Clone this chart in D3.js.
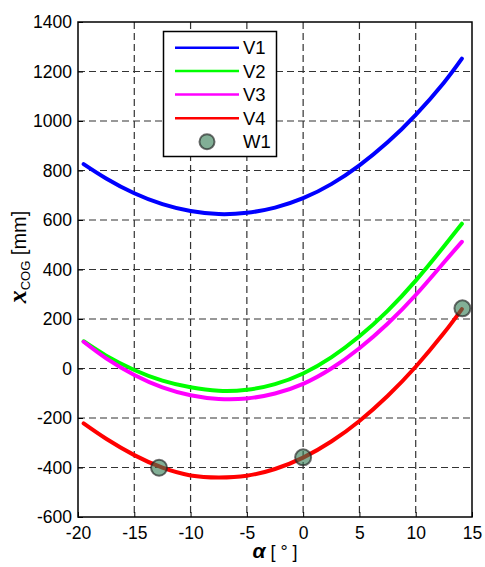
<!DOCTYPE html>
<html>
<head>
<meta charset="utf-8">
<script src="https://cdn.jsdelivr.net/npm/d3@7"></script>
<style>
  body { margin: 0; background: #fff; }
  text { font-family: "Liberation Sans", Arial, sans-serif; }
</style>
</head>
<body>
<svg width="485" height="567"></svg>
<script>
// alpha values (deg) where the curves were read
let alpha = [-19.5, -17.5, -15, -12.5, -10, -7.5, -5, -2.5, 0, 2.5, 5, 7.5, 10, 12.5, 14.1];

let v1 = [826, 768, 708, 664, 636, 624, 629, 650, 688, 745, 821, 914, 1025, 1155, 1252];
let v2 = [110, 52, -6, -49, -76, -90, -86, -63, -20, 45, 130, 233, 355, 493, 585];
let v3 = [108, 41, -26, -76, -108, -123, -121, -101, -62, 0, 82, 181, 297, 428, 512];
let v4 = [-222, -284, -350, -401, -432, -440, -433, -406, -360, -295, -212, -111, 7, 143, 240];

let w1x = [-12.8, 0, 14.15];
let w1y = [-401, -359, 243];

let xTicks = [-20, -15, -10, -5, 0, 5, 10, 15];
let yTicks = [-600, -400, -200, 0, 200, 400, 600, 800, 1000, 1200, 1400];

let seriesNames = ["V1", "V2", "V3", "V4"];
let seriesColors = ["#0000ff", "#00ff00", "#ff00ff", "#ff0000"];
let seriesValues = [v1, v2, v3, v4];

let padLeft = 78, padRight = 472, padTop = 22, padBottom = 517;

let svg = d3.select("svg");

let xScale = d3.scaleLinear().domain([-20, 15]).range([padLeft, padRight]);
let yScale = d3.scaleLinear().domain([-600, 1400]).range([padBottom, padTop]);

// grid
let grid = svg.append("g")
    .attr("stroke", "#333")
    .attr("stroke-width", 1.2)
    .attr("stroke-dasharray", "7,4");

grid.selectAll(".gx")
    .data(xTicks.slice(1, -1))
    .enter()
    .append("line")
    .attr("x1", d => xScale(d)).attr("x2", d => xScale(d))
    .attr("y1", padTop).attr("y2", padBottom);

grid.selectAll(".gy")
    .data(yTicks.slice(1, -1))
    .enter()
    .append("line")
    .attr("y1", d => yScale(d)).attr("y2", d => yScale(d))
    .attr("x1", padLeft).attr("x2", padRight);

// axes (ticks inward), plain hyphen minus like the original
let x_axis = d3.axisBottom(xScale).tickValues(xTicks).tickFormat(d => String(d))
    .tickSizeInner(-5).tickSizeOuter(0).tickPadding(10);
let y_axis = d3.axisLeft(yScale).tickValues(yTicks).tickFormat(d => String(d))
    .tickSizeInner(-5).tickSizeOuter(0).tickPadding(6);

let gx = svg.append("g")
    .attr("transform", `translate(0, ${padBottom})`)
    .call(x_axis);
let gy = svg.append("g")
    .attr("transform", `translate(${padLeft}, 0)`)
    .call(y_axis);

[gx, gy].forEach(g => {
    g.select(".domain").remove();
    g.selectAll("line").attr("stroke", "#000");
    g.selectAll("text")
        .attr("font-size", 17.5)
        .attr("fill", "#000")
        .style("font-family", "Liberation Sans, Arial, sans-serif");
});

// curves
let line = d3.line()
    .x((d, i) => xScale(alpha[i]))
    .y(d => yScale(d))
    .curve(d3.curveNatural);

let plot = svg.append("g");

plot.selectAll("path.series")
    .data(seriesValues)
    .enter()
    .append("path")
    .attr("class", "series")
    .attr("d", d => line(d))
    .attr("fill", "none")
    .attr("stroke", (d, i) => seriesColors[i])
    .attr("stroke-width", 4)
    .attr("stroke-linecap", "round");

// measured points
plot.selectAll("circle")
    .data(w1x)
    .enter()
    .append("circle")
    .attr("cx", d => xScale(d))
    .attr("cy", (d, i) => yScale(w1y[i]))
    .attr("r", 8)
    .attr("fill", "#2f7a50")
    .attr("fill-opacity", 0.6)
    .attr("stroke", "#222")
    .attr("stroke-opacity", 0.65)
    .attr("stroke-width", 2);

// frame
svg.append("rect")
    .attr("x", padLeft).attr("y", padTop)
    .attr("width", padRight - padLeft).attr("height", padBottom - padTop)
    .attr("fill", "none")
    .attr("stroke", "#000")
    .attr("stroke-width", 1.5);

// legend
let legend = svg.append("g");
legend.append("rect")
    .attr("x", 163.5).attr("y", 31.5)
    .attr("width", 113).attr("height", 125)
    .attr("fill", "#fff")
    .attr("stroke", "#000")
    .attr("stroke-width", 1.5);

let legY = [47.7, 71, 94.5, 118.3, 141.7];

seriesNames.forEach((name, i) => {
    legend.append("line")
        .attr("x1", 175).attr("x2", 239)
        .attr("y1", legY[i]).attr("y2", legY[i])
        .attr("stroke", seriesColors[i])
        .attr("stroke-width", 2.5);
    legend.append("text")
        .attr("x", 243).attr("y", legY[i] + 6.5)
        .attr("font-size", 18.5)
        .text(name);
});
legend.append("circle")
    .attr("cx", 207).attr("cy", legY[4])
    .attr("r", 7.5)
    .attr("fill", "#2f7a50")
    .attr("fill-opacity", 0.6)
    .attr("stroke", "#222")
    .attr("stroke-opacity", 0.65)
    .attr("stroke-width", 2);
legend.append("text")
    .attr("x", 243).attr("y", legY[4] + 6.5)
    .attr("font-size", 18.5)
    .text("W1");

// axis titles
let xt = svg.append("text")
    .attr("x", 275).attr("y", 558)
    .attr("text-anchor", "middle")
    .attr("font-size", 18);
xt.append("tspan")
    .attr("font-weight", "bold").attr("font-style", "italic")
    .attr("font-size", 21)
    .text("α");
xt.append("tspan").text(" [ ° ]");

let yt = svg.append("text")
    .attr("transform", "translate(26, 257) rotate(-90)")
    .attr("text-anchor", "middle")
    .attr("font-size", 20);
yt.append("tspan")
    .attr("font-weight", "bold").attr("font-style", "italic")
    .attr("font-size", 26)
    .style("font-family", "Liberation Serif, Times New Roman, serif")
    .text("x");
yt.append("tspan")
    .attr("font-size", 13)
    .attr("dy", 4)
    .text("COG");
yt.append("tspan")
    .attr("dy", -4)
    .text(" [mm]");
</script>
</body>
</html>
